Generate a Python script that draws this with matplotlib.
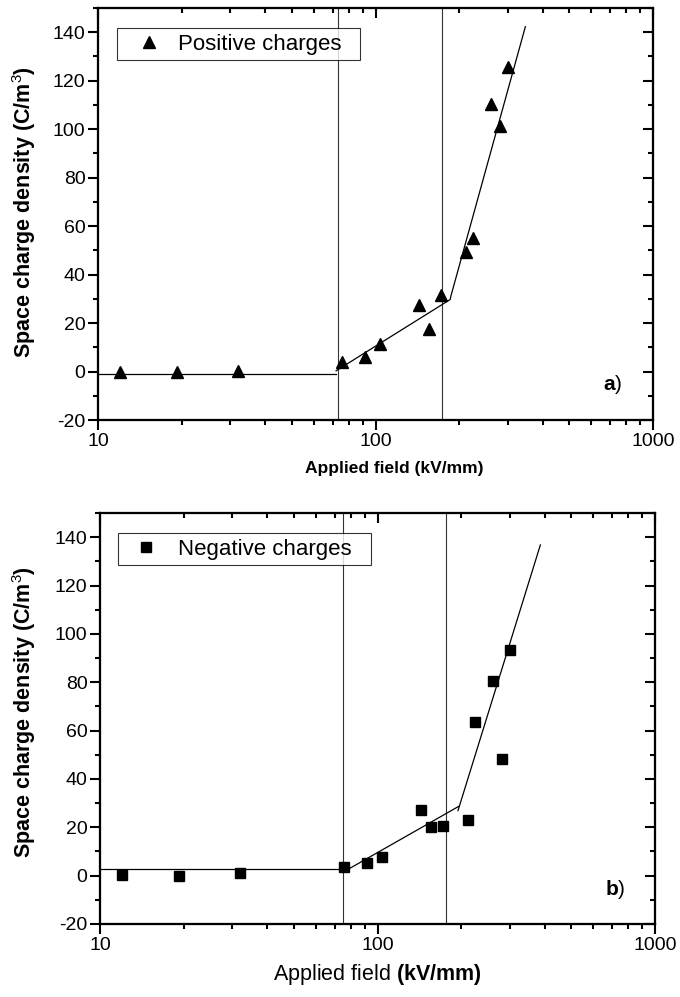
import matplotlib
matplotlib.use("Agg")
import matplotlib.pyplot as plt
from matplotlib.ticker import LogLocator, MultipleLocator, FixedLocator, NullFormatter

plt.rcParams['font.family'] = ['Liberation Sans', 'DejaVu Sans']
plt.rcParams['mathtext.fontset'] = 'custom'
plt.rcParams['mathtext.rm'] = 'Liberation Sans'
plt.rcParams['mathtext.bf'] = 'Liberation Sans:bold'
plt.rcParams['axes.unicode_minus'] = False

# ---- data ----
field = [12, 19.2, 32, 75.8, 92, 104, 144, 156, 172, 212, 224, 260, 281, 300]
positive = [-0.3, -0.3, 0.2, 4.1, 5.8, 11.3, 27.4, 17.5, 31.7, 49.2, 55.2, 110.3, 101.5, 125.5]
negative = [0.3, 0.0, 1.1, 3.6, 5.2, 7.7, 27.3, 20.0, 20.7, 23.2, 63.6, 80.7, 48.3, 93.4]

pos_fit1_x = [10, 72.1]
pos_fit1_y = [-1.1, -1.1]
pos_fit2_x = [72.1, 185.8, 187.1, 346.8]
pos_fit2_y = [0.3, 29.7, 31.3, 142.3]
pos_vlines = [73.3, 173]

neg_fit1_x = [10, 76.9]
neg_fit1_y = [2.6, 2.6]
neg_fit2_x = [79.4, 195.8]
neg_fit2_y = [3.0, 28.6]
neg_fit3_x = [195.0, 386.3]
neg_fit3_y = [26.9, 136.8]
neg_vlines = [75.3, 176]

yticks = [-20, 0, 20, 40, 60, 80, 100, 120, 140]
xticks = [10, 100, 1000]
xticklabels = ['10', '100', '1000']

fig = plt.figure(figsize=(6.8, 9.97), dpi=100)
ax1 = fig.add_axes([98/680, 1-420/997, 555/680, 412/997])
ax2 = fig.add_axes([100/680, 1-924/997, 555/680, 411/997])


def mirror(ax):
    axt = ax.twiny()
    axt.set_xscale('log')
    axt.set_xlim(ax.get_xlim())
    axt.xaxis.set_major_locator(FixedLocator(xticks))
    axt.xaxis.set_minor_locator(LogLocator(base=10, subs=range(2, 10)))
    axt.xaxis.set_major_formatter(NullFormatter())
    axt.xaxis.set_minor_formatter(NullFormatter())
    axt.tick_params(which='both', direction='in', width=1.5)
    axt.tick_params(which='major', length=7)
    axt.tick_params(which='minor', length=3.5)
    axr = ax.twinx()
    axr.set_ylim(ax.get_ylim())
    axr.set_yticks(yticks)
    axr.yaxis.set_minor_locator(MultipleLocator(10))
    axr.set_yticklabels([])
    axr.tick_params(which='both', direction='in', width=1.5)
    axr.tick_params(which='major', length=7)
    axr.tick_params(which='minor', length=3.5)
    for a in (axt, axr):
        for s in a.spines.values():
            s.set_linewidth(1.5)


for ax in (ax1, ax2):
    ax.set_xscale('log')
    ax.set_xlim(10, 1000)
    ax.set_ylim(-20, 150)
    ax.xaxis.set_major_locator(FixedLocator(xticks))
    ax.set_xticklabels(xticklabels)
    ax.xaxis.set_minor_locator(LogLocator(base=10, subs=range(2, 10)))
    ax.xaxis.set_minor_formatter(NullFormatter())
    ax.set_yticks(yticks)
    ax.yaxis.set_minor_locator(MultipleLocator(10))
    for s in ax.spines.values():
        s.set_linewidth(1.5)
    ax.tick_params(which='both', direction='out', width=1.5, labelsize=14)
    ax.tick_params(which='major', length=7, pad=2)
    ax.tick_params(which='minor', length=3.5)
    mirror(ax)

# ---- top panel ----
for v in pos_vlines:
    ax1.axvline(v, color='#333333', lw=0.8, zorder=1)
ax1.plot(pos_fit1_x, pos_fit1_y, color='black', lw=0.9, zorder=2)
ax1.plot(pos_fit2_x, pos_fit2_y, color='black', lw=0.9, zorder=2)
ax1.plot(field, positive, linestyle='none', marker='^', markersize=8,
         color='black', label='Positive charges', zorder=3)
leg1 = ax1.legend(loc='upper left', bbox_to_anchor=(19/555, 1-20/412, 243/555, 0),
                  mode='expand', fontsize=16,
                  frameon=True, fancybox=False, edgecolor='black', handletextpad=0.1,
                  borderpad=0.25, borderaxespad=0, handlelength=2.4)
leg1.get_frame().set_linewidth(0.8)
ax1.set_ylabel(r'Space charge density (C/m$^{3}$)', fontsize=15.5, fontweight='bold')
ax1.yaxis.set_label_coords(-60/555, 0.506)
ax1.set_xlabel('Applied field (kV/mm)', fontsize=12.5, fontweight='bold')
ax1.xaxis.set_label_coords(0.533, -41/412)
ax1.text(0.91, 0.085, r'$\mathbf{a}$)', transform=ax1.transAxes, fontsize=15,
         ha='left', va='center')

# ---- bottom panel ----
for v in neg_vlines:
    ax2.axvline(v, color='#333333', lw=0.8, zorder=1)
ax2.plot(neg_fit1_x, neg_fit1_y, color='black', lw=0.9, zorder=2)
ax2.plot(neg_fit2_x, neg_fit2_y, color='black', lw=0.9, zorder=2)
ax2.plot(neg_fit3_x, neg_fit3_y, color='black', lw=0.9, zorder=2)
ax2.plot(field, negative, linestyle='none', marker='s', markersize=6.5,
         color='black', label='Negative charges', zorder=3)
leg2 = ax2.legend(loc='upper left', bbox_to_anchor=(18/555, 1-20/411, 253/555, 0),
                  mode='expand', fontsize=16,
                  frameon=True, fancybox=False, edgecolor='black', handletextpad=0.43,
                  borderpad=0.25, borderaxespad=0, handlelength=2.03)
leg2.get_frame().set_linewidth(0.8)
ax2.set_ylabel(r'Space charge density (C/m$^{3}$)', fontsize=15.5, fontweight='bold')
ax2.yaxis.set_label_coords(-62/555, 0.515)
ax2.set_xlabel(r'Applied field $\mathbf{(kV/mm)}$', fontsize=15.5)
ax2.xaxis.set_label_coords(0.5, -38/411)
ax2.text(0.91, 0.085, r'$\mathbf{b}$)', transform=ax2.transAxes, fontsize=15,
         ha='left', va='center')

fig.savefig('out.png', dpi=100)
